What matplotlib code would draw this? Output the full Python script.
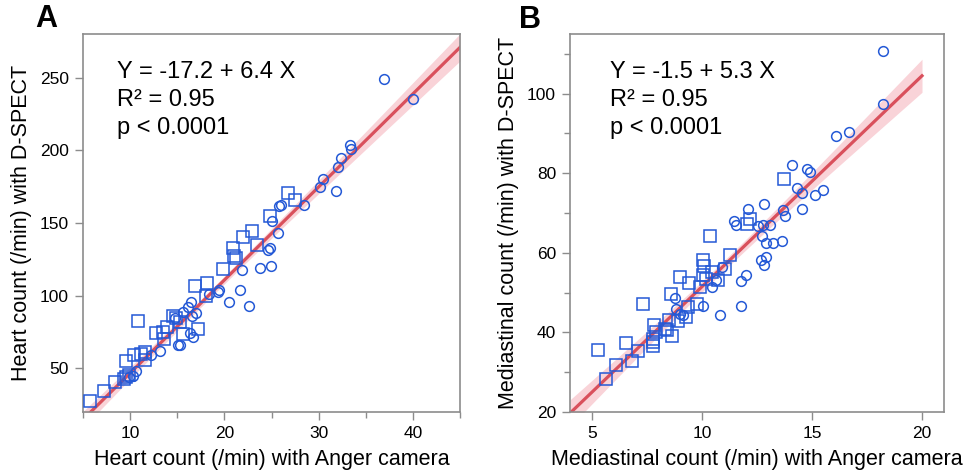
import numpy as np
import matplotlib
matplotlib.use('Agg')
import matplotlib.pyplot as plt
from matplotlib.ticker import MultipleLocator

plt.rcParams['font.family'] = ['Liberation Sans', 'DejaVu Sans']

# ── Data ──────────────────────────────────────────────────────────────────────
# Panel A: heart counts
a_circ_x = [36.9, 40.0, 33.3, 33.4, 32.4, 32.1, 30.5, 30.1, 31.8, 28.4, 26.0, 25.8,
            25.1, 25.7, 24.8, 24.6, 23.8, 24.9, 21.9, 21.7, 22.6, 20.5, 19.4, 19.3,
            18.4, 17.0, 16.6, 16.5, 15.6, 16.1, 16.4, 16.7, 15.1, 15.3, 13.2, 12.2,
            10.6, 10.3, 9.9, 14.8]
a_circ_y = [249.0, 235.6, 203.8, 200.8, 194.4, 188.7, 180.2, 174.9, 172.2, 162.6, 162.6, 161.4,
            151.6, 143.1, 132.6, 131.5, 119.3, 120.7, 118.0, 104.0, 93.2, 96.0, 104.2, 102.8,
            101.3, 88.0, 86.0, 96.0, 89.1, 92.0, 74.0, 71.5, 65.8, 65.8, 62.3, 58.9,
            47.9, 45.1, 44.0, 85.0]
a_sq_x = [5.7, 7.2, 8.4, 9.6, 9.9, 9.6, 10.4, 11.6, 11.6, 10.8, 12.7, 13.6, 13.9,
          14.5, 14.9, 15.3, 15.6, 17.2, 16.9, 18.2, 18.0, 19.9, 20.9, 21.0, 21.2,
          22.0, 22.9, 23.5, 24.8, 26.7, 27.5, 9.3, 11.2, 13.5]
a_sq_y = [27.8, 34.2, 40.6, 44.0, 45.6, 55.3, 59.1, 61.5, 55.5, 82.7, 74.3, 70.3, 78.4,
          85.7, 84.5, 81.8, 73.8, 77.3, 106.6, 108.6, 99.6, 118.5, 132.6, 127.6, 125.8,
          140.2, 144.3, 135.2, 155.0, 170.8, 166.0, 43.0, 59.9, 75.0]

# Panel B: mediastinal counts
b_circ_x = [18.21, 18.21, 16.07, 16.68, 14.11, 14.76, 14.93, 14.31, 14.56, 15.48, 15.14,
            14.53, 13.68, 13.78, 12.84, 12.10, 11.46, 11.56, 12.54, 12.76, 13.11, 12.73,
            12.93, 13.23, 13.65, 12.70, 12.93, 12.81, 12.01, 11.76, 11.77, 10.83, 10.03,
            10.44, 10.90, 10.63, 8.75, 8.98, 9.13, 8.83]
b_circ_y = [110.8, 97.5, 89.4, 90.3, 82.1, 81.0, 80.2, 76.2, 75.0, 75.8, 74.5,
            70.9, 70.8, 69.2, 72.2, 70.9, 68.0, 67.0, 66.8, 67.0, 67.0, 64.2,
            62.5, 62.5, 63.0, 58.3, 59.0, 56.9, 54.4, 52.9, 46.6, 44.5, 46.6,
            51.4, 56.5, 53.1, 48.7, 44.7, 44.3, 46.0]
b_sq_x = [5.26, 5.62, 6.11, 6.53, 6.82, 7.07, 7.31, 7.75, 7.75, 7.78, 7.81, 7.93,
          8.30, 8.42, 8.48, 8.65, 8.57, 8.90, 9.00, 9.28, 9.43, 9.35, 9.77, 9.91,
          10.06, 10.11, 10.03, 10.18, 10.44, 10.74, 10.36, 11.05, 11.26, 12.04, 12.18, 13.72]
b_sq_y = [35.7, 28.2, 31.7, 37.3, 32.9, 35.3, 47.2, 36.6, 37.6, 38.4, 41.8, 40.1,
          40.9, 40.5, 43.0, 39.0, 49.6, 42.9, 54.0, 44.0, 52.4, 46.4, 47.2, 51.4,
          58.3, 56.6, 54.4, 53.5, 55.2, 53.1, 64.3, 56.0, 59.4, 67.2, 68.4, 78.6]

# Fit coefficients printed on the panels
FIT_A = (-17.2, 6.4)
FIT_B = (-1.5, 5.3)

BLUE = '#2459d6'
RED = '#d9505c'
BAND = '#f9d3d8'
FRAME = '#8c8c8c'


def conf_band(xs, ys, xgrid, a, b):
    # 95% confidence band of the fitted line
    xs, ys = np.asarray(xs), np.asarray(ys)
    n = len(xs)
    resid = ys - (a + b * xs)
    s = np.sqrt(np.sum(resid ** 2) / (n - 2))
    sxx = np.sum((xs - xs.mean()) ** 2)
    se = s * np.sqrt(1.0 / n + (xgrid - xs.mean()) ** 2 / sxx)
    return 1.99 * se


def panel(ax, cx, cy, sx, sy, fit, xline, text, text_x):
    a, b = fit
    xs = np.concatenate([cx, sx])
    ys = np.concatenate([cy, sy])
    xg = np.linspace(xline[0], xline[1], 200)
    yfit = a + b * xg
    half = conf_band(xs, ys, xg, a, b)
    ax.fill_between(xg, yfit - half, yfit + half, color=BAND, lw=0, zorder=1)
    ax.plot(xg, yfit, color=RED, lw=2.3, zorder=2)
    ax.plot(sx, sy, 's', ms=8, mfc='none', mec=BLUE, mew=1.1, zorder=3)
    ax.plot(cx, cy, 'o', ms=7, mfc='none', mec=BLUE, mew=1.1, zorder=3)
    for ypos, line in zip([0.883, 0.810, 0.735], text):
        ax.text(text_x, ypos, line, transform=ax.transAxes, fontsize=17,
                va='baseline', ha='left')
    for sp in ax.spines.values():
        sp.set_color(FRAME)
        sp.set_linewidth(1.2)
    ax.tick_params(which='major', length=6, width=1, color=FRAME, labelsize=12.5, pad=4)
    ax.tick_params(which='minor', length=4, width=1, color=FRAME)


fig = plt.figure(figsize=(9.68, 4.73), dpi=100)

# ── Panel A ───────────────────────────────────────────────────────────────────
axA = fig.add_axes([83 / 968, 61 / 473, 377 / 968, 378 / 473])
panel(axA, a_circ_x, a_circ_y, a_sq_x, a_sq_y, FIT_A, (5, 45),
      ['Y = -17.2 + 6.4 X', 'R\u00b2 = 0.95', 'p < 0.0001'], 0.09)
axA.set_xlim(5, 45)
axA.set_ylim(20, 280)
axA.xaxis.set_major_locator(MultipleLocator(10))
axA.xaxis.set_minor_locator(MultipleLocator(5))
axA.yaxis.set_major_locator(MultipleLocator(50))
axA.set_xlabel('Heart count (/min) with Anger camera', fontsize=15.5, labelpad=6)
axA.set_ylabel('Heart count (/min) with D-SPECT', fontsize=15.5, labelpad=6)
fig.text(46 / 968, 1 - 19 / 473, 'A', fontsize=22, fontweight='bold', ha='center', va='center')

# ── Panel B ───────────────────────────────────────────────────────────────────
axB = fig.add_axes([570 / 968, 61 / 473, 374 / 968, 378 / 473])
panel(axB, b_circ_x, b_circ_y, b_sq_x, b_sq_y, FIT_B, (4, 20),
      ['Y = -1.5 + 5.3 X', 'R\u00b2 = 0.95', 'p < 0.0001'], 0.107)
axB.set_xlim(4, 21)
axB.set_ylim(20, 115)
axB.xaxis.set_major_locator(MultipleLocator(5))
axB.yaxis.set_major_locator(MultipleLocator(20))
axB.yaxis.set_minor_locator(MultipleLocator(10))
axB.set_xlabel('Mediastinal count (/min) with Anger camera', fontsize=15.5, labelpad=6)
axB.set_ylabel('Mediastinal count (/min) with D-SPECT', fontsize=15.5, labelpad=6)
fig.text(530 / 968, 1 - 20 / 473, 'B', fontsize=22, fontweight='bold', ha='center', va='center')

plt.savefig('out.png', dpi=100)
